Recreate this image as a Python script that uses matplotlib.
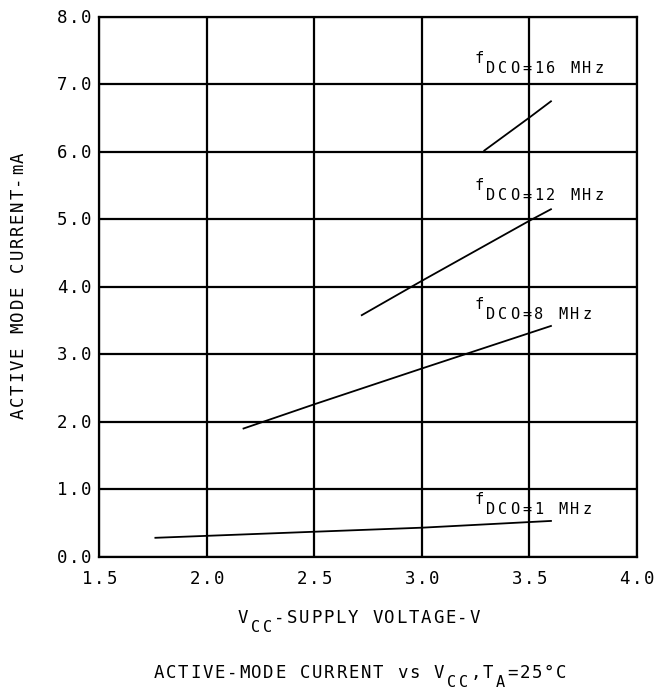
import matplotlib
matplotlib.use("Agg")
import matplotlib.pyplot as plt
from matplotlib.transforms import offset_copy, blended_transform_factory
from matplotlib.font_manager import FontProperties, findfont, get_font

plt.rcParams['font.family'] = ['DejaVu Sans Mono', 'DejaVu Sans']

# Data
series_labels = ["1", "8", "12", "16"]
vcc_1mhz = [1.76, 2.5, 3.0, 3.6]
icc_1mhz = [0.28, 0.37, 0.43, 0.53]
vcc_8mhz = [2.17, 2.5, 3.0, 3.6]
icc_8mhz = [1.90, 2.26, 2.79, 3.42]
vcc_12mhz = [2.72, 3.0, 3.5, 3.6]
icc_12mhz = [3.58, 4.09, 4.98, 5.15]
vcc_16mhz = [3.29, 3.5, 3.6]
icc_16mhz = [6.02, 6.51, 6.75]
label_pos_x = [3.30, 3.30, 3.30, 3.30]
label_pos_y = [0.633, 3.53, 5.28, 7.166]

x_ticks = [1.5, 2.0, 2.5, 3.0, 3.5, 4.0]
y_ticks = [0.0, 1.0, 2.0, 3.0, 4.0, 5.0, 6.0, 7.0, 8.0]

DPI = 100
fig = plt.figure(figsize=(6.58, 6.90), dpi=DPI)
ax = fig.add_axes([0.1512, 0.1932, 0.968 - 0.1512, 0.9754 - 0.1932])

_font_path = findfont(FontProperties(family='DejaVu Sans Mono'))


def _bearing(ch, fs):
    f = get_font(_font_path)
    f.set_size(fs, DPI)
    f.set_text(ch, 0.0)
    return f.get_bitmap_offset()[0] / 64.0


def spaced(trans, x, y, segs, adv, fs, align='center', rot=0, dx0=0.0, dy0=0.0):
    """Draw letter-spaced monospace text. segs: list of (text, size_scale, drop_px)."""
    n = sum(len(t) for t, _, _ in segs)
    if align == 'center':
        start = -n * adv / 2.0
    elif align == 'right':
        start = -n * adv
    else:
        start = 0.0
    i = 0
    for t, sc, drop in segs:
        f = fs * sc
        mono_adv = 0.602 * f * DPI / 72.0
        for ch in t:
            along = start + i * adv + (adv - mono_adv) / 2.0
            if rot == 0:
                ox, oy = dx0 + along, dy0 - drop
            else:
                xo = _bearing(ch, f)
                ox, oy = dx0 + drop - xo, dy0 + along + xo
            tr = offset_copy(trans, fig=fig, x=ox, y=oy, units='dots')
            fig.text(x, y, ch, transform=tr, fontsize=f, ha='left',
                     va='baseline', rotation=rot, rotation_mode='anchor',
                     zorder=5)
            i += 1


ax.set_xlim(1.5, 4.0)
ax.set_ylim(0, 8)
ax.set_xticks(x_ticks)
ax.set_yticks(y_ticks)
ax.set_xticklabels([])
ax.set_yticklabels([])
ax.tick_params(length=0)
ax.grid(True, color='black', linewidth=1.6)
for s in ax.spines.values():
    s.set_linewidth(1.6)

for xs, ys in [(vcc_1mhz, icc_1mhz), (vcc_8mhz, icc_8mhz),
               (vcc_12mhz, icc_12mhz), (vcc_16mhz, icc_16mhz)]:
    ax.plot(xs, ys, color='black', linewidth=1.3, zorder=3)

ADV = 12.2
FS = 12.5

# tick labels
bx = blended_transform_factory(ax.transData, ax.transAxes)
for v in x_ticks:
    spaced(bx, v, 0.0, [(f"{v:.1f}", 1, 0)], ADV, FS, align='center', dy0=-27.3)
by = blended_transform_factory(ax.transAxes, ax.transData)
for v in y_ticks:
    spaced(by, 0.0, v, [(f"{v:.1f}", 1, 0)], ADV, FS, align='right',
           dx0=-7.0, dy0=-6.0)

# curve labels
for lab, lx, ly in zip(series_labels, label_pos_x, label_pos_y):
    spaced(ax.transData, lx, ly, [('f', 1, -10)], 12.0, 11, align='left', dx0=-13.5)
    spaced(ax.transData, lx, ly, [(f'DCO={lab} MHz', 1, 0)], 12.0, 11,
           align='left', dx0=-1.5)

# axis labels and title
spaced(fig.transFigure, 0.0365, 0.5855, [('ACTIVE MODE CURRENT-mA', 1, 0)],
       ADV, FS, align='center', rot=90)
spaced(fig.transFigure, 0.5456, 0.0971,
       [('V', 1, 0), ('CC', 0.88, 9), ('-SUPPLY VOLTAGE-V', 1, 0)],
       ADV, FS, align='center')
spaced(fig.transFigure, 0.547, 0.0174,
       [('ACTIVE-MODE CURRENT vs V', 1, 0), ('CC', 0.88, 9), (',T', 1, 0),
        ('A', 0.88, 9), ('=25°C', 1, 0)],
       ADV, FS, align='center')

fig.savefig('out.png', dpi=DPI, facecolor='white')
